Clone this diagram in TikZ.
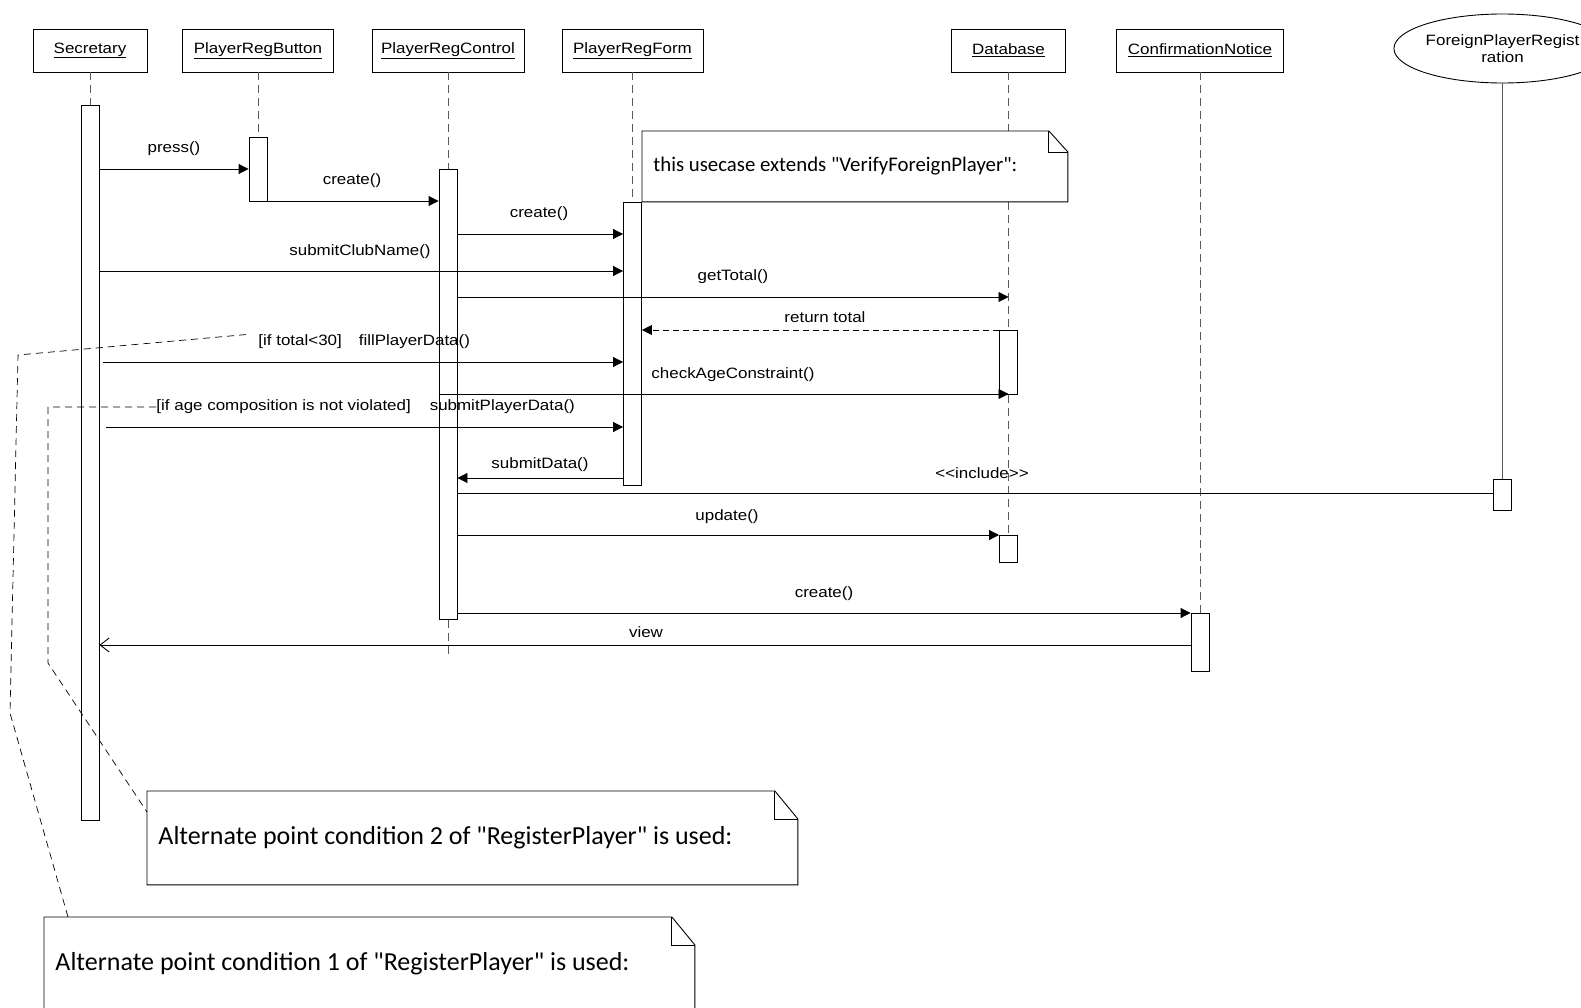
\documentclass[tikz,border=0pt]{standalone}
\usepackage{fontspec}
\setmainfont{Liberation Sans}[FakeStretch=1.13]
\newfontfamily\notefont{Carlito}
\usetikzlibrary{arrows.meta, shapes.geometric}

\begin{document}
\begin{tikzpicture}[x=1pt, y=-1pt, line width=0.9pt,
  head/.style={draw, rectangle, minimum height=43pt, inner sep=0pt, font=\fontsize{15}{17}\selectfont},
  act/.style={draw, fill=white, rectangle, minimum width=18pt, inner sep=0pt, anchor=north},
  life/.style={draw=black!65, dash pattern=on 8pt off 5pt},
  msg/.style={-{Triangle[length=10pt, width=10pt]}},
  reply/.style={-{Triangle[length=10pt, width=10pt]}, dash pattern=on 6pt off 4pt},
  back/.style={-{Straight Barb[length=9pt, width=14pt]}},
  lbl/.style={font=\fontsize{15}{17}\selectfont, inner sep=0pt},
  note/.style={fill=white, anchor=north west, inner xsep=11pt, inner ysep=0pt, align=flush left},
  link/.style={dash pattern=on 7pt off 5pt, line width=0.7pt}]

\clip (0,0) rectangle (1581,1008);

\node (sec) [head, minimum width=114pt] at (90, 50.5) {\underline{Secretary}};
\node (btn) [head, minimum width=151pt] at (258, 50.5) {\underline{PlayerRegButton}};
\node (ctl) [head, minimum width=152pt] at (448, 50.5) {\underline{PlayerRegControl}};
\node (frm) [head, minimum width=141pt] at (632.5, 50.5) {\underline{PlayerRegForm}};
\node (db) [head, minimum width=114pt] at (1008.5, 50.5) {\underline{Database}};
\node (cnf) [head, minimum width=167pt] at (1200, 50.5) {\underline{ConfirmationNotice}};
\node (fpr) [draw, ellipse, minimum width=180pt, minimum height=69pt, inner sep=0pt, align=center, font=\fontsize{15}{16.5}\selectfont] at (1502.5, 48.5) {ForeignPlayerRegist\\ration};

\node (sec-a) [act, minimum height=715pt] at (90, 105) {};
\node (btn-a) [act, minimum height=64pt] at (258, 137) {};
\node (ctl-a) [act, minimum height=450pt] at (448, 169) {};
\node (frm-a) [act, minimum height=283pt] at (632.5, 202) {};
\node (db-a1) [act, minimum height=64pt] at (1008.5, 330) {};
\node (db-a2) [act, minimum height=27pt] at (1008.5, 535) {};
\node (cnf-a) [act, minimum height=58pt] at (1200, 613) {};
\node (fpr-a) [act, minimum height=31pt] at (1502.5, 479) {};
\coordinate (ctl-end) at (448, 657);

\draw [life] (sec) -- (sec-a);
\draw [life] (btn) -- (btn-a);
\draw [life] (ctl) -- (ctl-a);
\draw [life] (ctl-a) -- (ctl-end);
\draw [life] (frm) -- (frm-a);
\draw [life] (db) -- (db-a1);
\draw [life] (db-a1) -- (db-a2);
\draw [life] (cnf) -- (cnf-a);
\draw [draw=black!65] (fpr) -- (fpr-a);

\node (n1) [note, text width=403pt, minimum height=70pt, font=\notefont\fontsize{20.8}{24}\selectfont] at (642, 131) {this usecase extends "VerifyForeignPlayer":};
\draw (n1.north west) -- ([xshift=-19pt]n1.north east) -- ([yshift=-21pt]n1.north east) -- (n1.south east) -- (n1.south west) -- cycle;
\draw ([xshift=-19pt]n1.north east) -- ([xshift=-19pt, yshift=-21pt]n1.north east) -- ([yshift=-21pt]n1.north east);

\draw [msg] (sec-a.east |- 0,169) -- (btn-a.west |- 0,169);
\node (l1) [lbl] at (174, 149) {press()};
\draw [msg] (btn-a.east |- 0,201) -- (ctl-a.west |- 0,201);
\node (l2) [lbl] at (352, 181) {create()};
\draw [msg] (ctl-a.east |- 0,234) -- (frm-a.west |- 0,234);
\node (l3) [lbl] at (539, 214) {create()};
\draw [msg] (sec-a.east |- 0,271) -- (frm-a.west |- 0,271);
\node (l4) [lbl] at (360, 252) {submitClubName()};
\draw [msg] (ctl-a.east |- 0,297) -- (db.south |- 0,297);
\node (l5) [lbl] at (733, 277) {getTotal()};
\draw [reply] (db-a1.west |- 0,330) -- (frm-a.east |- 0,330);
\node (l6) [lbl] at (825, 317) {return total};
\draw [msg] (sec-a.east |- 0,362) ++(4,0) -- (frm-a.west |- 0,362);
\node (g1) [lbl, anchor=west] at (258, 342) {[if total<30]\hspace{17pt}fillPlayerData()};
\draw [msg] (ctl-a.west |- 0,394) -- (db.south |- 0,394);
\node (l8) [lbl, anchor=west] at (651, 375) {checkAgeConstraint()};
\draw [msg] (sec-a.east |- 0,427) ++(7,0) -- (frm-a.west |- 0,427);
\node (g2) [lbl, anchor=west] at (156, 407) {[if age composition is not violated]\hspace{19pt}submitPlayerData()};
\draw [msg] (frm-a.west |- 0,478) -- (ctl-a.east |- 0,478);
\node (l10) [lbl] at (540, 465) {submitData()};
\draw (ctl-a.east |- 0,493) -- (fpr-a.west |- 0,493);
\node (l11) [lbl] at (982, 473) {<\kern0pt<include>\kern0pt>};
\draw [msg] (ctl-a.east |- 0,535) -- (db-a2.west |- 0,535);
\node (l12) [lbl] at (727, 517) {update()};
\draw [msg] (ctl-a.east |- 0,613) -- (cnf-a.west |- 0,613);
\node (l13) [lbl] at (824, 594) {create()};
\draw [back] (cnf-a.west |- 0,645) -- (sec-a.east |- 0,645);
\node (l14) [lbl] at (646, 632) {view};

\node (n2) [note, text width=628pt, minimum height=93pt, font=\notefont\fontsize{26}{30}\selectfont] at (147, 791) {Alternate point condition 2 of "RegisterPlayer" is used:};
\draw (n2.north west) -- ([xshift=-23pt]n2.north east) -- ([yshift=-28pt]n2.north east) -- (n2.south east) -- (n2.south west) -- cycle;
\draw ([xshift=-23pt]n2.north east) -- ([xshift=-23pt, yshift=-28pt]n2.north east) -- ([yshift=-28pt]n2.north east);

\node (n3) [note, text width=628pt, minimum height=93pt, font=\notefont\fontsize{26}{30}\selectfont] at (44, 917) {Alternate point condition 1 of "RegisterPlayer" is used:};
\draw (n3.north west) -- ([xshift=-23pt]n3.north east) -- ([yshift=-28pt]n3.north east) -- (n3.south east) -- (n3.south west) -- cycle;
\draw ([xshift=-23pt]n3.north east) -- ([xshift=-23pt, yshift=-28pt]n3.north east) -- ([yshift=-28pt]n3.north east);

\coordinate (k1) at (18, 355);
\coordinate (k2) at (10, 713);
\coordinate (k3) at (48, 407);
\coordinate (k4) at (48, 663);
\draw [link] ([xshift=-12pt]g1.north west) -- (k1) -- (k2) -- ([xshift=24pt]n3.north west);
\draw [link] (g2.west) -- (k3) -- (k4) -- ([yshift=-21pt]n2.north west);

\end{tikzpicture}
\end{document}
